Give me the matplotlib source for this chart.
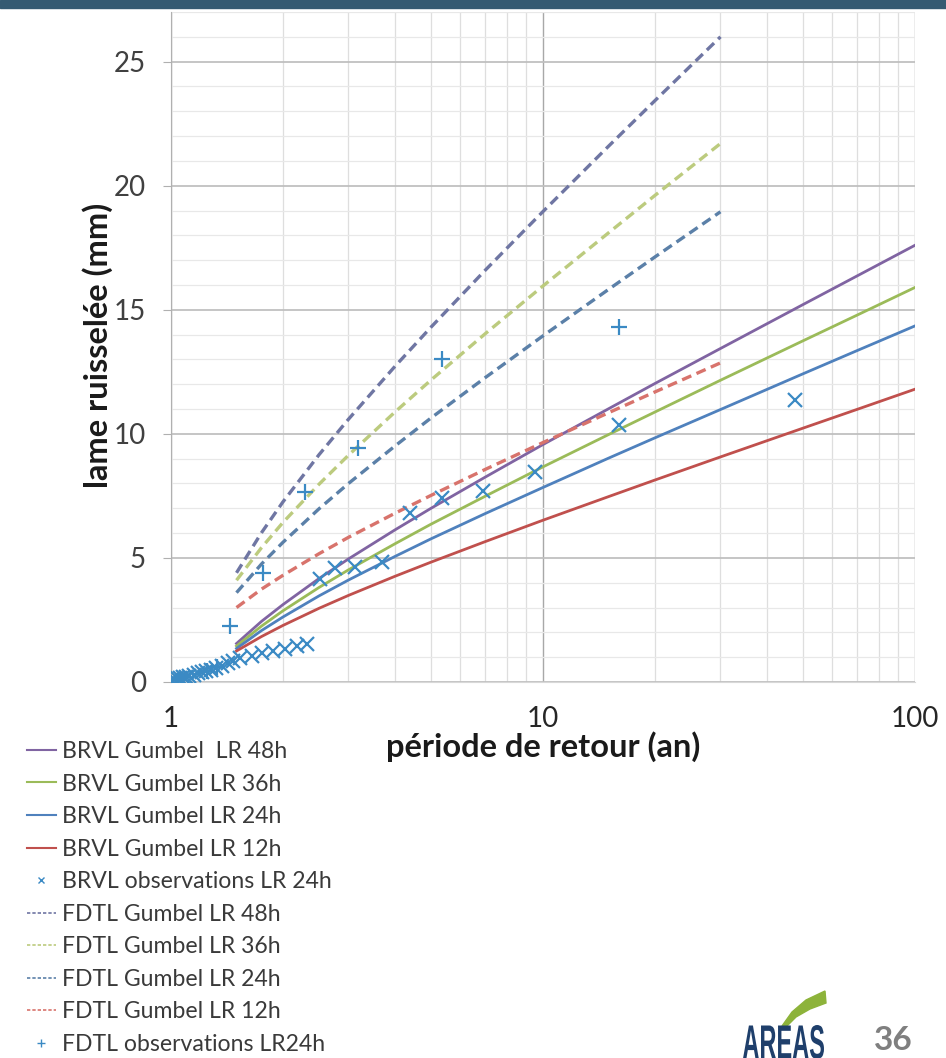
import numpy as np
import matplotlib
matplotlib.use('Agg')
import matplotlib.pyplot as plt
from matplotlib.lines import Line2D
from matplotlib.patches import Polygon, Rectangle, PathPatch
from matplotlib.textpath import TextPath
from matplotlib.font_manager import FontProperties
from matplotlib.transforms import Affine2D, IdentityTransform
from matplotlib.ticker import FixedLocator, NullFormatter

plt.rcParams['font.family'] = ['Lato', 'DejaVu Sans']

# périodes de retour (ans) des courbes de Gumbel
T_brvl = [1.5, 1.75, 2, 2.5, 3, 4, 5, 7, 10, 15, 20, 30, 50, 70, 100]
brvl_48 = [1.55, 2.44, 3.12, 4.17, 4.96, 6.13, 7.00, 8.26, 9.57, 11.01, 12.03, 13.44, 15.21, 16.37, 17.6]
brvl_36 = [1.45, 2.25, 2.87, 3.81, 4.52, 5.57, 6.36, 7.49, 8.67, 9.97, 10.88, 12.16, 13.75, 14.79, 15.9]
brvl_24 = [1.35, 2.07, 2.62, 3.47, 4.11, 5.06, 5.77, 6.79, 7.84, 9.02, 9.84, 10.98, 12.42, 13.36, 14.35]
brvl_12 = [1.25, 1.83, 2.28, 2.97, 3.49, 4.26, 4.83, 5.66, 6.52, 7.47, 8.14, 9.07, 10.23, 10.99, 11.8]

T_fdtl = [1.5, 1.75, 2, 2.5, 3, 4, 5, 7, 10, 15, 20, 30]
fdtl_48 = [4.4, 6.01, 7.26, 9.16, 10.59, 12.72, 14.30, 16.60, 18.96, 21.59, 23.43, 26.0]
fdtl_36 = [4.1, 5.41, 6.43, 7.97, 9.14, 10.88, 12.17, 14.04, 15.96, 18.10, 19.61, 21.7]
fdtl_24 = [3.6, 4.75, 5.63, 6.98, 8.00, 9.51, 10.64, 12.27, 13.95, 15.82, 17.13, 18.95]
fdtl_12 = [3.0, 3.74, 4.30, 5.17, 5.83, 6.80, 7.52, 8.57, 9.65, 10.85, 11.69, 12.86]

# observations
T_obs_brvl = [1.0, 1.02, 1.04, 1.06, 1.08, 1.1, 1.12, 1.15, 1.18, 1.21, 1.24, 1.28,
              1.32, 1.37, 1.42, 1.47, 1.53, 1.65, 1.76, 1.88, 2.02, 2.18, 2.32,
              2.51, 2.76, 3.12, 3.69, 4.39, 5.35, 6.9, 9.5, 16.0, 47.6]
lr_obs_brvl = [0.1, 0.12, 0.15, 0.18, 0.2, 0.22, 0.25, 0.3, 0.35, 0.4, 0.45, 0.5,
               0.55, 0.65, 0.75, 0.85, 0.95, 1.05, 1.15, 1.25, 1.35, 1.45, 1.55,
               4.15, 4.6, 4.65, 4.85, 6.8, 7.4, 7.7, 8.45, 10.35, 11.35]
T_obs_fdtl = [1.25, 1.33, 1.44, 1.77, 2.29, 3.18, 5.35, 16.0]
lr_obs_fdtl = [0.45, 0.6, 2.25, 4.4, 7.65, 9.45, 13.0, 14.3]

labels = ['BRVL Gumbel  LR 48h', 'BRVL Gumbel LR 36h', 'BRVL Gumbel LR 24h',
          'BRVL Gumbel LR 12h', 'BRVL observations LR 24h', 'FDTL Gumbel LR 48h',
          'FDTL Gumbel LR 36h', 'FDTL Gumbel LR 24h', 'FDTL Gumbel LR 12h',
          'FDTL observations LR24h']

c_solid = ['#8064a2', '#9bbb59', '#4f81bd', '#c0504d']
c_dash = ['#6f76a3', '#bccb7e', '#5b80a8', '#d8736c']
c_obs = '#3b8ac4'

W, H = 946, 1058
fig = plt.figure(figsize=(W / 100, H / 100), dpi=100)
ax = fig.add_axes([171 / W, (H - 682) / H, 744 / W, 670 / H])

for y, c in zip([brvl_48, brvl_36, brvl_24, brvl_12], c_solid):
    ax.plot(T_brvl, y, color=c, lw=2.0, zorder=3)
for y, c in zip([fdtl_48, fdtl_36, fdtl_24, fdtl_12], c_dash):
    ax.plot(T_fdtl, y, color=c, lw=2.4, ls=(0, (3, 1.7)), zorder=3)
ax.plot(T_obs_brvl, lr_obs_brvl, ls='', marker='x', ms=10, mew=1.6, color=c_obs, zorder=4)
ax.plot(T_obs_fdtl, lr_obs_fdtl, ls='', marker='+', ms=12, mew=1.6, color=c_obs, zorder=4)

ax.set_xscale('log')
ax.set_xlim(1, 100)
ax.set_ylim(0, 27)
ax.set_yticks([0, 5, 10, 15, 20, 25])
ax.yaxis.set_minor_locator(FixedLocator(np.arange(0, 28, 1)))
ax.set_xticks([1, 10, 100])
ax.set_xticklabels(['1', '10', '100'])
ax.xaxis.set_minor_locator(FixedLocator([m * d for d in [1, 10] for m in range(2, 10)]))
ax.xaxis.set_minor_formatter(NullFormatter())

ax.grid(True, which='major', axis='y', color='#c0c0c0', lw=1.3)
ax.grid(True, which='minor', axis='y', color='#e8e8e8', lw=0.9)
ax.grid(True, which='major', axis='x', color='#a8a8a8', lw=1.0)
ax.grid(True, which='minor', axis='x', color='#dedede', lw=0.9)
ax.set_axisbelow(True)
for s in ['top', 'right']:
    ax.spines[s].set_visible(False)
ax.spines['left'].set_color('#b0b0b0')
ax.spines['bottom'].set_color('#d8d8d8')

ax.tick_params(axis='y', which='major', length=6, color='#b0b0b0', pad=12,
               labelsize=20, labelcolor='#404040')
ax.tick_params(axis='y', which='minor', length=0)
ax.tick_params(axis='x', which='both', length=0, pad=17, labelsize=20, labelcolor='#262626')

ax.set_xlabel('période de retour (an)', fontsize=23.5, fontweight='bold', color='#1a1a1a')
ax.xaxis.set_label_coords(0.5, (682 - 731) / 670)
ax.set_ylabel('lame ruisselée (mm)', fontsize=23.5, fontweight='bold', color='#1a1a1a')
ax.yaxis.set_label_coords((113 - 171) / 744, (682 - 345) / 670)

# légende
handles = [Line2D([], [], color=c_solid[0], lw=1.5),
           Line2D([], [], color=c_solid[1], lw=1.5),
           Line2D([], [], color=c_solid[2], lw=1.5),
           Line2D([], [], color=c_solid[3], lw=1.5),
           Line2D([], [], ls='', marker='x', ms=5, mew=1, color=c_obs),
           Line2D([], [], color=c_dash[0], lw=1.2, ls=(0, (2, 1.2))),
           Line2D([], [], color=c_dash[1], lw=1.2, ls=(0, (2, 1.2))),
           Line2D([], [], color=c_dash[2], lw=1.2, ls=(0, (2, 1.2))),
           Line2D([], [], color=c_dash[3], lw=1.2, ls=(0, (2, 1.2))),
           Line2D([], [], ls='', marker='+', ms=6, mew=1, color=c_obs)]
leg = fig.legend(handles, labels, loc='upper left', bbox_to_anchor=(27 / W, 1 - 741 / H),
                 frameon=False, fontsize=16.6, handlelength=1.25, handletextpad=0.25,
                 labelspacing=0.5, borderpad=0, borderaxespad=0)
for t in leg.get_texts():
    t.set_color('#3a3a3a')

# bandeau et logo
fig.patches.append(Rectangle((0, 1 - 8 / H), 1, 8 / H, transform=fig.transFigure,
                             color='#355a72', zorder=10))
swoosh = np.array([[782, 1026], [792, 1012], [806, 1000], [825, 991], [826, 1003],
                   [810, 1009], [796, 1017], [786, 1027]])
fig.patches.append(Polygon(np.column_stack([swoosh[:, 0] / W, 1 - swoosh[:, 1] / H]),
                           closed=True, transform=fig.transFigure, color='#8db33a', zorder=10))
tp = TextPath((0, 0), 'AREAS', size=1, prop=FontProperties(family='Liberation Sans', weight='bold'))
ext = tp.get_extents()
sx, sy = 81 / ext.width, 34 / ext.height
tr = Affine2D().translate(-ext.x0, -ext.y0).scale(sx, sy).translate(743, H - 1059)
fig.patches.append(PathPatch(tr.transform_path(tp), transform=IdentityTransform(),
                             color='#1f3f6b', lw=0, zorder=10))
fig.text(893 / W, 1 - 1040 / H, '36', fontsize=24, fontweight='bold', color='#7f7f7f',
         ha='center', va='center')

fig.savefig('out.png', dpi=100)
